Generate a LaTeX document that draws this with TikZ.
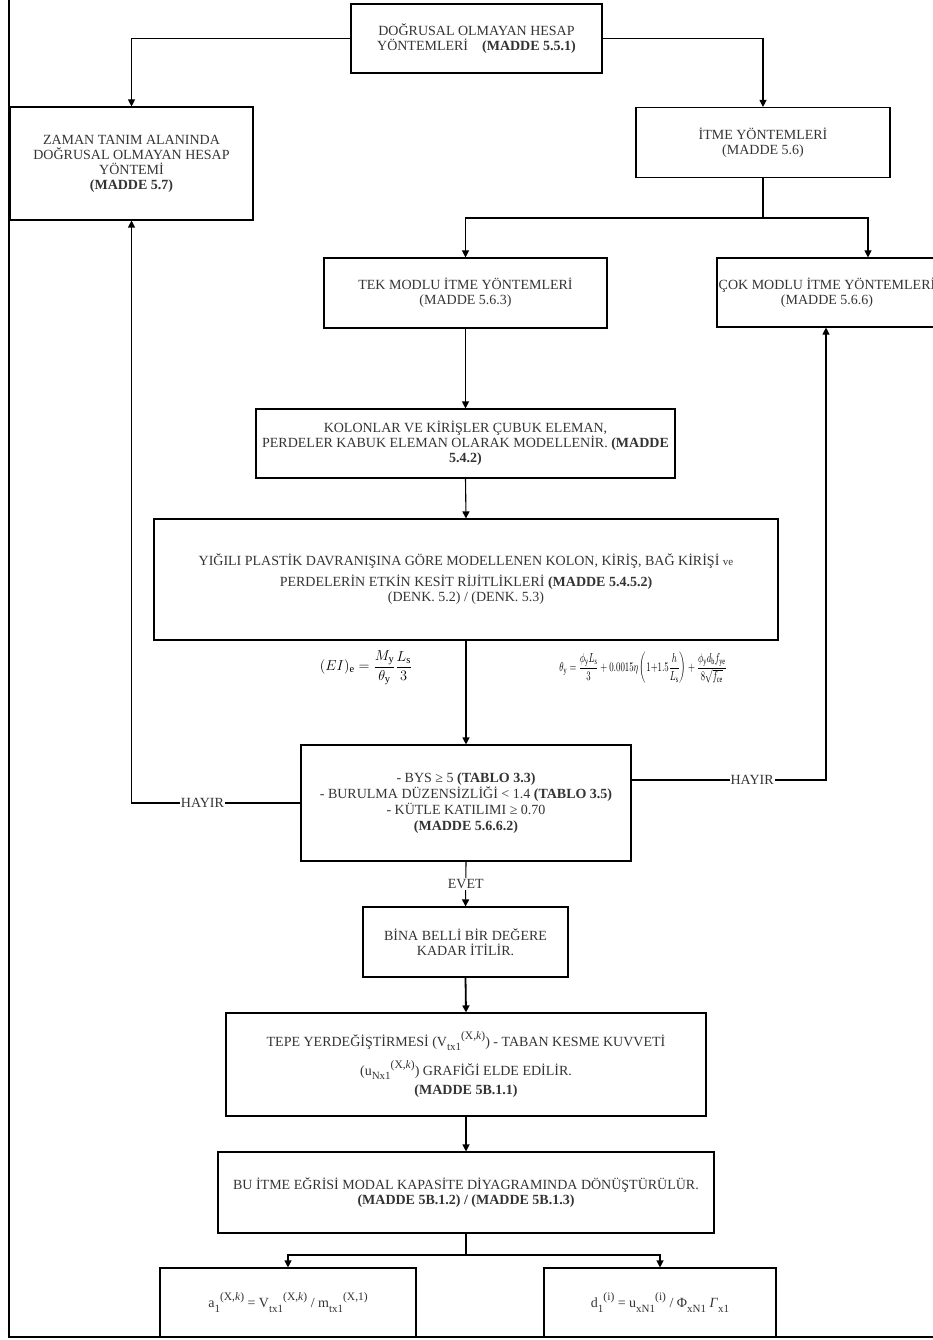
\documentclass[tikz,border=0pt]{standalone}
\usepackage{amsmath}
\usepackage{fontspec}
\setmainfont{Liberation Serif}
\usetikzlibrary{arrows.meta}
\newcommand{\sbs}[1]{\raisebox{-0.3em}{\fontsize{11}{11}\selectfont #1}}
\newcommand{\sps}[1]{\raisebox{0.5em}{\fontsize{11.5}{11}\selectfont #1}}

\begin{document}
\begin{tikzpicture}[x=1pt,y=-1pt]
	\tikzstyle{box}=[draw=black,line width=1.1pt,align=center,inner sep=2pt,text=black!80,font=\fontsize{14}{15}\selectfont]
	\tikzstyle{lbl}=[fill=white,inner sep=1pt,text=black!80,font=\fontsize{14}{15}\selectfont]
	\tikzstyle{arr}=[-{Triangle[length=7pt,width=7pt]},line width=1.1pt]
	\useasboundingbox (0,0) rectangle (933,1340);
	\draw[line width=1.3pt] (9,0) -- (9,1337) -- (933,1337);
	% boxes
	\node[box,minimum width=251pt,minimum height=69pt](b1) at (476.5,38.5){DOĞRUSAL OLMAYAN HESAP\\YÖNTEMLERİ\quad\textbf{(MADDE 5.5.1)}};
	\node[box,minimum width=243pt,minimum height=113pt](b2) at (131.5,163.5){ZAMAN TANIM ALANINDA\\DOĞRUSAL OLMAYAN HESAP\\YÖNTEMİ\\\textbf{(MADDE 5.7)}};
	\node[box,minimum width=254pt,minimum height=70pt](b3) at (763,142.5){İTME YÖNTEMLERİ\\(MADDE 5.6)};
	\node[box,minimum width=283pt,minimum height=70pt](b4) at (465.5,293){TEK MODLU İTME YÖNTEMLERİ\\(MADDE 5.6.3)};
	\node[box,minimum width=220pt,minimum height=69pt,inner sep=1pt](b5) at (827,292.5){ÇOK MODLU İTME YÖNTEMLERİ\\(MADDE 5.6.6)};
	\node[box,minimum width=419pt,minimum height=69pt](b6) at (465.5,443.5){KOLONLAR VE KİRİŞLER ÇUBUK ELEMAN,\\PERDELER KABUK ELEMAN OLARAK MODELLENİR. \textbf{(MADDE}\\\textbf{5.4.2)}};
	\node[box,minimum width=624pt,minimum height=121pt](b7) at (466,579.5){YIĞILI PLASTİK DAVRANIŞINA GÖRE MODELLENEN KOLON, KİRİŞ, BAĞ KİRİŞİ {\fontsize{11}{13}\selectfont ve}\\[6pt]PERDELERİN ETKİN KESİT RİJİTLİKLERİ \textbf{(MADDE 5.4.5.2)}\\(DENK. 5.2) / (DENK. 5.3)};
	\node[font=\fontsize{15}{17}\selectfont](f1) at (366,668){$(EI)_\mathrm{e}=\dfrac{M_\mathrm{y}}{\theta_\mathrm{y}}\dfrac{L_\mathrm{s}}{3}$};
	\node[font=\fontsize{10}{12}\selectfont](f2) at (643,668){\scalebox{0.88}[1.3]{$\theta_\mathrm{y}=\dfrac{\phi_\mathrm{y}L_\mathrm{s}}{3}+0.0015\eta\left(1{+}1.5\dfrac{h}{L_\mathrm{s}}\right)+\dfrac{\phi_\mathrm{y}d_\mathrm{b}f_\mathrm{ye}}{8\sqrt{f_\mathrm{ce}}}$}};
	\node[box,minimum width=330pt,minimum height=116pt,font=\fontsize{14}{16}\selectfont](b8) at (466,803){- BYS ≥ 5 \textbf{(TABLO 3.3)}\\- BURULMA DÜZENSİZLİĞİ < 1.4 \textbf{(TABLO 3.5)}\\- KÜTLE KATILIMI ≥ 0.70\\\textbf{(MADDE 5.6.6.2)}};
	\node[box,minimum width=205pt,minimum height=70pt](b9) at (465.5,942){BİNA BELLİ BİR DEĞERE\\KADAR İTİLİR.};
	\node[box,minimum width=480pt,minimum height=103pt](b10) at (466,1064.5){TEPE YERDEĞİŞTİRMESİ (V\sbs{tx1}\sps{(X,\textit{k})}) - TABAN KESME KUVVETİ\\[9pt](u\sbs{Nx1}\sps{(X,\textit{k})}) GRAFİĞİ ELDE EDİLİR.\\[4pt]\textbf{(MADDE 5B.1.1)}};
	\node[box,minimum width=496pt,minimum height=81pt](b11) at (466,1192.5){BU İTME EĞRİSİ MODAL KAPASİTE DİYAGRAMINDA DÖNÜŞTÜRÜLÜR.\\\textbf{(MADDE 5B.1.2) / (MADDE 5B.1.3)}};
	\node[box,minimum width=256pt,minimum height=69pt](b12) at (288,1302.5){a\sbs{1}\sps{(X,\textit{k})} = V\sbs{tx1}\sps{(X,\textit{k})} / m\sbs{tx1}\sps{(X,1)}};
	\node[box,minimum width=232pt,minimum height=69pt](b13) at (660,1302.5){d\sbs{1}\sps{(i)} = u\sbs{xN1}\sps{(i)} / Φ\sbs{xN1} \textit{Γ}\sbs{x1}};
	% splits
	\coordinate(s1) at (763,218);
	\coordinate(s2) at (466,1255);
	% connectors
	\draw[arr] (b1.west) -| (b2.north);
	\draw[arr] (b1.east) -| (b3.north);
	\draw[line width=1.1pt] (b3.south) -- (s1);
	\draw[arr] (s1) -| (b4.north);
	\draw[arr] (s1) -| ([xshift=41pt]b5.north);
	\path[arr]
		(b4.south) edge (b6.north)
		(b6.south) edge (b7.north)
		(b7.south) edge (b8.north)
		(b10.south) edge (b11.north);
	\draw[arr] (b8.west) -| node[lbl,pos=0.29]{HAYIR} (b2.south);
	\draw[arr] ([yshift=23pt]b8.east) -| node[lbl,pos=0.31]{HAYIR} ([xshift=-1pt]b5.south);
	\draw[arr] (b8.south) -- node[lbl]{EVET} (b9.north);
	\draw[arr,line width=1.8pt] (b9.south) -- (b10.north);
	\draw[line width=1.1pt] (b11.south) -- (s2);
	\draw[arr] (s2) -| (b12.north);
	\draw[arr] (s2) -| (b13.north);
\end{tikzpicture}
\end{document}
